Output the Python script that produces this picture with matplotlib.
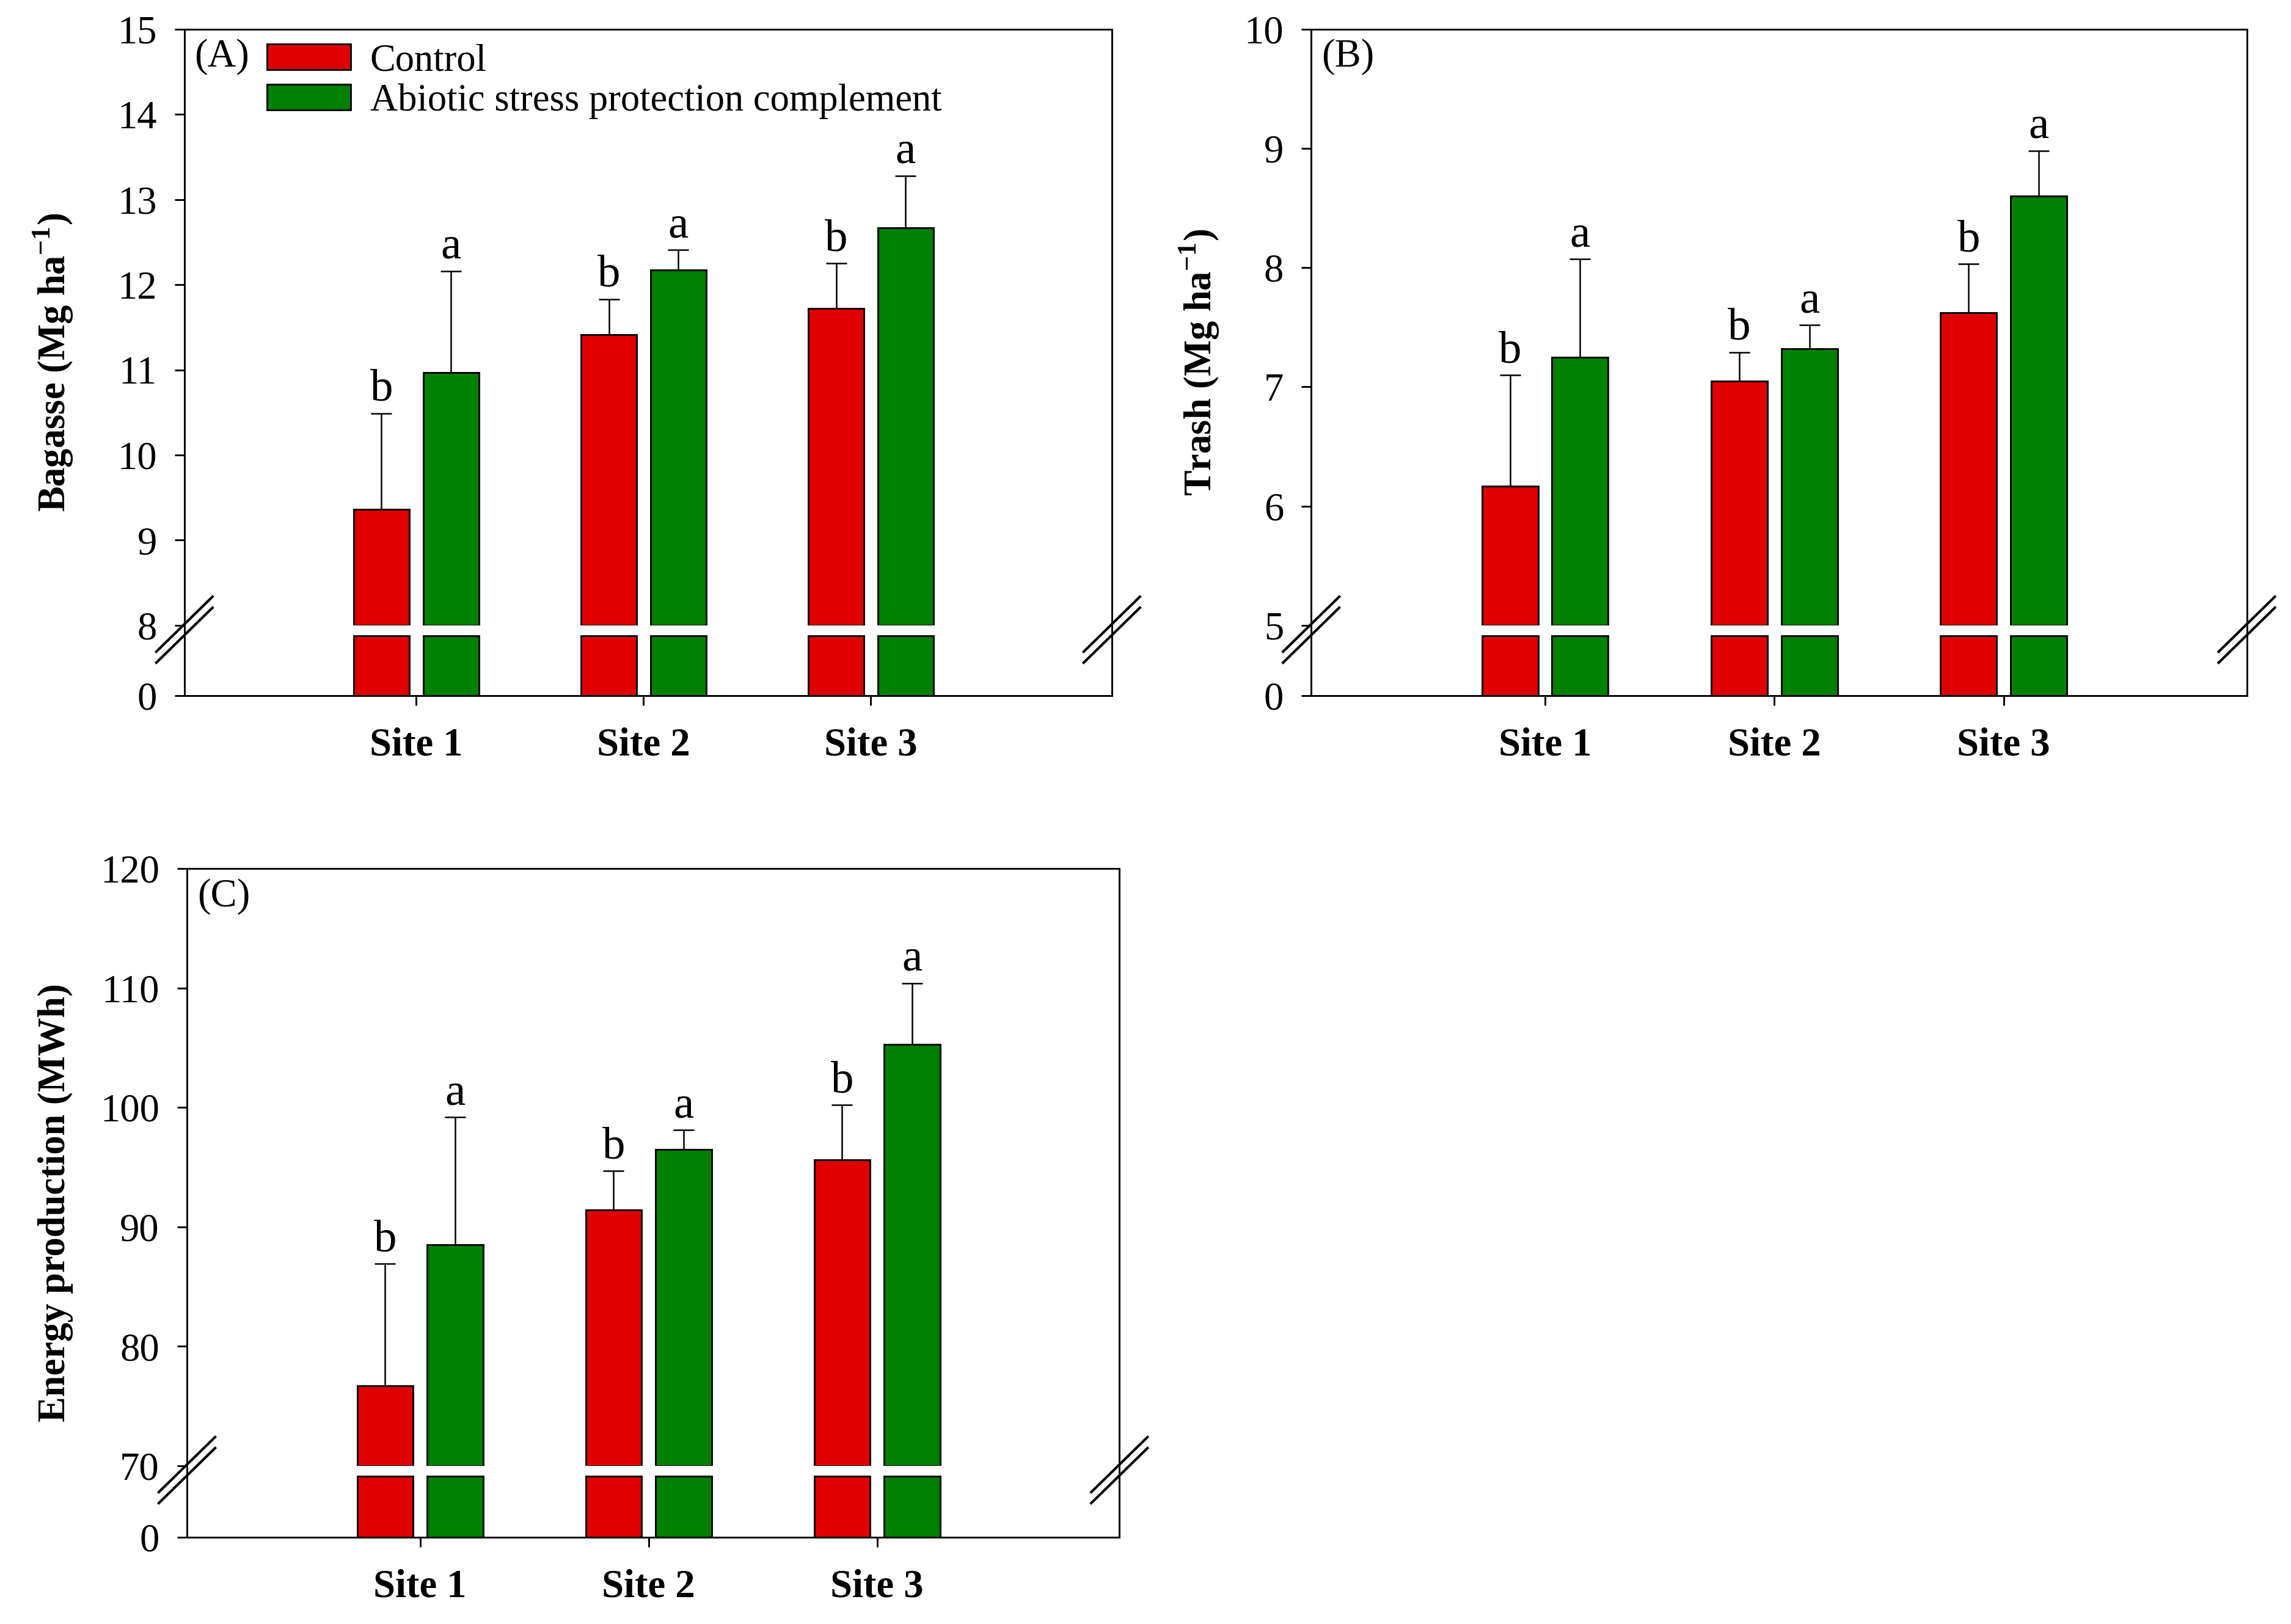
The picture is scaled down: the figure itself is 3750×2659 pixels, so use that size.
import numpy as np
import matplotlib
matplotlib.use('Agg')
import matplotlib.pyplot as plt
from matplotlib.lines import Line2D

plt.rcParams['font.family'] = 'Liberation Serif'
plt.rcParams['mathtext.fontset'] = 'custom'
plt.rcParams['mathtext.rm'] = 'Liberation Serif'
plt.rcParams['mathtext.bf'] = 'Liberation Serif:bold'

sites = ['Site 1', 'Site 2', 'Site 3']
series = ['Control', 'Abiotic stress protection complement']
colors = ['#e00000', '#008000']
letters_ctrl = ['b', 'b', 'b']
letters_asp = ['a', 'a', 'a']

# (A) bagasse, Mg/ha
bagasse_ctrl = [9.36, 11.41, 11.72]
bagasse_ctrl_err = [1.13, 0.42, 0.53]
bagasse_asp = [10.97, 12.17, 12.67]
bagasse_asp_err = [1.19, 0.24, 0.61]

# (B) trash, Mg/ha
trash_ctrl = [6.17, 7.05, 7.62]
trash_ctrl_err = [0.93, 0.24, 0.41]
trash_asp = [7.25, 7.32, 8.60]
trash_asp_err = [0.82, 0.20, 0.38]

# (C) energy production, MWh
energy_ctrl = [76.7, 91.4, 95.6]
energy_ctrl_err = [10.2, 3.3, 4.6]
energy_asp = [88.5, 96.5, 105.3]
energy_asp_err = [10.7, 1.6, 5.1]

W, H = 3750, 2659
fig = plt.figure(figsize=(W / 300, H / 300), dpi=300)

BW = 0.245
OFF = 0.153
LW = 0.7


def break_marks(xf, yb):
    dx, dy = 46 / W, 45 / H
    for yc in (yb + 2 / H, yb - 16 / H):
        fig.add_artist(Line2D([xf - dx, xf + dx], [yc - dy, yc + dy],
                              transform=fig.transFigure, color='k', lw=1.0))


def panel(box, ctrl, ctrl_err, asp, asp_err, ybrk, ytop, ystep, tag, ylabel,
          ylab_x, legend=False):
    left, right, bottom, brk, top = box
    hi = fig.add_axes([left, brk, right - left, top - brk])
    lo = fig.add_axes([left, bottom, right - left, brk - bottom])
    x = np.arange(1, len(sites) + 1)
    for ax in (hi, lo):
        ax.set_xlim(-0.02, 4.06)
        for s in ax.spines.values():
            s.set_linewidth(0.7)
        ax.tick_params(direction='out', length=3.8, width=0.7, labelsize=15.5)
        ax.tick_params(axis='y', pad=7)
    hi.spines['bottom'].set_visible(False)
    lo.spines['top'].set_visible(False)

    groups = [(ctrl, ctrl_err, -OFF, colors[0], letters_ctrl, series[0]),
              (asp, asp_err, OFF, colors[1], letters_asp, series[1])]
    for vals, err, off, col, let, name in groups:
        vals = np.array(vals)
        hi.bar(x + off, vals - ybrk, bottom=ybrk, width=BW, color=col,
               edgecolor='k', lw=LW, clip_on=False, label=name)
        lo.bar(x + off, np.minimum(vals, ybrk), width=BW, color=col,
               edgecolor='k', lw=LW)
        hi.errorbar(x + off, vals, yerr=[np.zeros_like(vals), err], fmt='none',
                    ecolor='k', elinewidth=0.6, capsize=4, capthick=0.6)
        for xi, v, e, t in zip(x + off, vals, err, let):
            hi.annotate(t, (xi, v + e), xytext=(0, 5), textcoords='offset points',
                        ha='center', va='baseline', fontsize=18)

    hi.set_ylim(ybrk, ytop)
    hi.set_yticks(np.arange(ybrk, ytop + ystep / 2, ystep))
    hi.set_xticks([])
    lo.set_ylim(0, ybrk / 0.852)
    lo.set_yticks([0])
    lo.set_xticks(x)
    lo.set_xticklabels(sites, fontweight='bold')
    lo.tick_params(axis='x', pad=8.5)

    hi.text(0.011, 0.953, tag, transform=hi.transAxes, fontsize=15.5,
            ha='left', va='center')
    if legend:
        hi.legend(loc='upper left', bbox_to_anchor=(0.089, 0.976), frameon=False,
                  fontsize=15, handlelength=2.2, handleheight=0.65,
                  handletextpad=0.5, labelspacing=0.12, borderpad=0,
                  borderaxespad=0)
    fig.text(ylab_x, (bottom + top) / 2, ylabel, rotation=90, fontsize=15,
             fontweight='bold', ha='center', va='center')
    break_marks(left, brk)
    break_marks(right, brk)


panel((0.0805, 0.4853, 0.5717, 0.6149, 0.9821),
      bagasse_ctrl, bagasse_ctrl_err, bagasse_asp, bagasse_asp_err,
      8, 15, 1, '(A)', r'Bagasse (Mg ha$^{\mathbf{-1}}$)', 0.0232, legend=True)
panel((0.5723, 0.9807, 0.5717, 0.6149, 0.9821),
      trash_ctrl, trash_ctrl_err, trash_asp, trash_asp_err,
      5, 10, 1, '(B)', r'Trash (Mg ha$^{\mathbf{-1}}$)', 0.5235)
panel((0.0816, 0.4886, 0.0534, 0.0974, 0.4652),
      energy_ctrl, energy_ctrl_err, energy_asp, energy_asp_err,
      70, 120, 10, '(C)', 'Energy production (MWh)', 0.0243)

fig.savefig('out.png', dpi=300, facecolor='white')
